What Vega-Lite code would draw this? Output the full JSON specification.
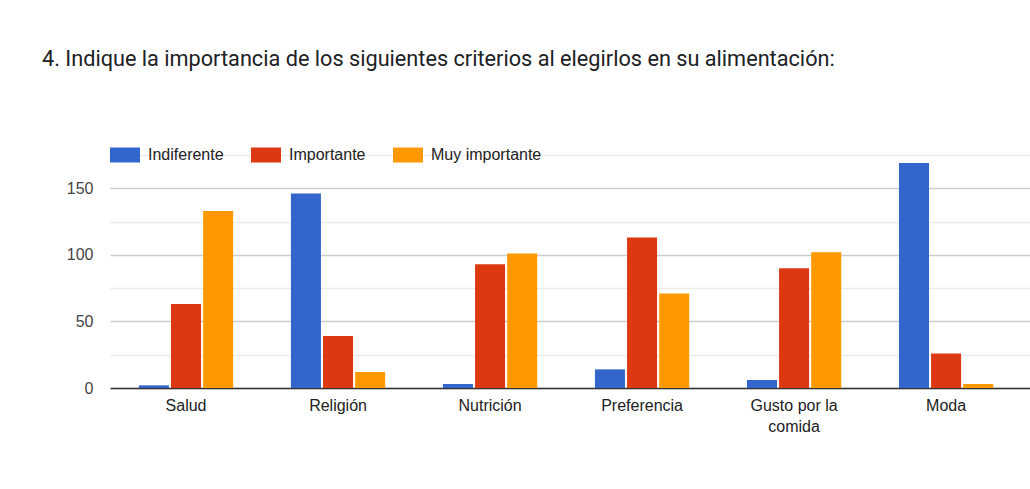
{
  "$schema": "https://vega.github.io/schema/vega-lite/v6.json",
  "autosize": {"type": "none"},
  "width": 920,
  "height": 233,
  "padding": {"left": 110, "top": 155, "right": 0, "bottom": 101},
  "background": "white",
  "title": {
    "text": "4. Indique la importancia de los siguientes criterios al elegirlos en su alimentación:",
    "anchor": "start",
    "frame": "group",
    "dx": -68,
    "offset": 69,
    "font": "Roboto",
    "fontSize": 21.7,
    "fontWeight": "normal",
    "color": "#202124"
  },
  "data": {
    "values": [
      {"criterio": "Salud", "nivel": "Indiferente", "n": 2},
      {"criterio": "Salud", "nivel": "Importante", "n": 63},
      {"criterio": "Salud", "nivel": "Muy importante", "n": 133},
      {"criterio": "Religión", "nivel": "Indiferente", "n": 146},
      {"criterio": "Religión", "nivel": "Importante", "n": 39},
      {"criterio": "Religión", "nivel": "Muy importante", "n": 12},
      {"criterio": "Nutrición", "nivel": "Indiferente", "n": 3},
      {"criterio": "Nutrición", "nivel": "Importante", "n": 93},
      {"criterio": "Nutrición", "nivel": "Muy importante", "n": 101},
      {"criterio": "Preferencia", "nivel": "Indiferente", "n": 14},
      {"criterio": "Preferencia", "nivel": "Importante", "n": 113},
      {"criterio": "Preferencia", "nivel": "Muy importante", "n": 71},
      {"criterio": "Gusto por la comida", "nivel": "Indiferente", "n": 6},
      {"criterio": "Gusto por la comida", "nivel": "Importante", "n": 90},
      {"criterio": "Gusto por la comida", "nivel": "Muy importante", "n": 102},
      {"criterio": "Moda", "nivel": "Indiferente", "n": 169},
      {"criterio": "Moda", "nivel": "Importante", "n": 26},
      {"criterio": "Moda", "nivel": "Muy importante", "n": 3}
    ]
  },
  "mark": {"type": "bar"},
  "encoding": {
    "x": {
      "field": "criterio",
      "type": "nominal",
      "sort": null,
      "scale": {"paddingInner": 0.38, "paddingOuter": 0.216, "align": 0.44},
      "axis": {
        "title": null,
        "labelAngle": 0,
        "ticks": false,
        "labelPadding": 9,
        "labelBaseline": "top",
        "labelFont": "Liberation Sans",
        "labelFontSize": 16,
        "labelColor": "#222222",
        "labelLineHeight": 21,
        "labelExpr": "datum.label == 'Gusto por la comida' ? ['Gusto por la', 'comida'] : datum.label",
        "domainColor": "#333333",
        "domainWidth": 1.5,
        "grid": false
      }
    },
    "xOffset": {
      "field": "nivel",
      "type": "nominal",
      "sort": ["Indiferente", "Importante", "Muy importante"],
      "scale": {"paddingInner": 0.065}
    },
    "y": {
      "field": "n",
      "type": "quantitative",
      "scale": {"domain": [0, 175], "nice": false},
      "axis": {
        "title": null,
        "values": [0, 25, 50, 75, 100, 125, 150, 175],
        "labelExpr": "datum.value % 50 == 0 ? datum.label : ''",
        "ticks": false,
        "domain": false,
        "labelPadding": 17,
        "labelFont": "Liberation Sans",
        "labelFontSize": 16,
        "labelColor": "#444444",
        "gridColor": {"condition": {"test": "datum.value % 50 == 0", "value": "#cccccc"}, "value": "#ebebeb"},
        "gridWidth": 1.3
      }
    },
    "color": {
      "field": "nivel",
      "type": "nominal",
      "scale": {
        "domain": ["Indiferente", "Importante", "Muy importante"],
        "range": ["#3366cc", "#dc3912", "#ff9900"]
      },
      "legend": {
        "title": null,
        "orient": "none",
        "legendX": 0,
        "legendY": -15,
        "direction": "horizontal",
        "symbolType": "M-1,-0.5L1,-0.5L1,0.5L-1,0.5Z",
        "symbolSize": 900,
        "symbolStrokeWidth": 0,
        "symbolOpacity": 1,
        "labelFont": "Liberation Sans",
        "labelFontSize": 16,
        "labelColor": "#222222",
        "labelOffset": 8,
        "columnPadding": 27
      }
    }
  },
  "config": {
    "view": {"stroke": null}
  }
}
